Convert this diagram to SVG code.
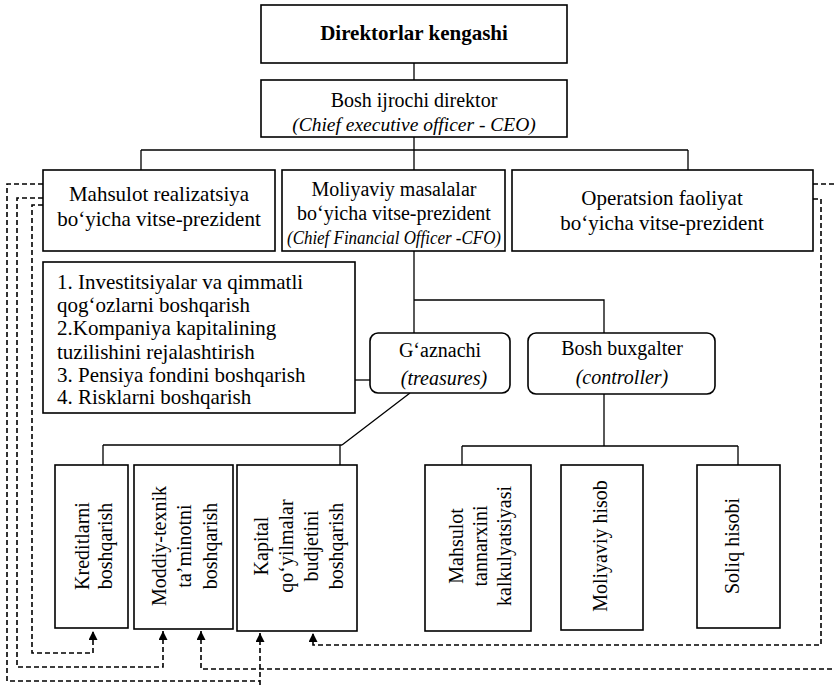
<svg xmlns="http://www.w3.org/2000/svg" width="834" height="685" viewBox="0 0 834 685">
<style>
.box{fill:#fff;stroke:#000;stroke-width:1.6}
.ln{fill:none;stroke:#000;stroke-width:1.3}
.dl{fill:none;stroke:#000;stroke-width:1.6;stroke-dasharray:5 3}
text{font-family:"Liberation Serif","Times New Roman",serif;font-size:20px;fill:#000}
.c{text-anchor:middle}
.i{font-style:italic}
.b{font-weight:bold;font-size:21px}
.r{font-size:21px}
.v{font-size:21px}
.s{font-size:19px}
</style>
<defs>
<marker id="ah" viewBox="0 0 10 10" refX="10" refY="5" markerWidth="10" markerHeight="9" markerUnits="userSpaceOnUse" orient="auto">
<path d="M0,0 L10,5 L0,10 z" fill="#000"/>
</marker>
</defs>
<rect width="834" height="685" fill="#fff"/>
<g id="connectors">
<path class="ln" d="M414,63 V80"/>
<path class="ln" d="M414,137 V150 M141,150 H688 M141,150 V170 M414,150 V170 M688,150 V170"/>
<path class="ln" d="M414,251 V300 H604 V333 M414,300 V333"/>
<path class="ln" d="M355,380 H370"/>
<path class="ln" d="M410,393 L342,445 M103,445 H342 M103,445 V465 M340,445 V465"/>
<path class="ln" d="M604,394 V446 M462,446 H738 M462,446 V465 M738,446 V465"/>
<path class="dl" d="M43,205 H32 V653 H93 V631" marker-end="url(#ah)"/>
<path class="dl" d="M43,198 H17 V667 H163 V631" marker-end="url(#ah)"/>
<path class="dl" d="M43,184 H7 V681 H260 M260,685 V633" marker-end="url(#ah)"/>
<path class="dl" d="M813,184 H840 V669 H201 V631" marker-end="url(#ah)"/>
<path class="dl" d="M813,199 H821 V645 H313 V633" marker-end="url(#ah)"/>
</g>
<g id="board">
<rect class="box" x="261" y="5" width="306" height="58"/>
<text class="c b" x="414" y="40">Direktorlar kengashi</text>
</g>
<g id="ceo">
<rect class="box" x="261" y="80" width="306" height="57"/>
<text class="c" x="414" y="107">Bosh ijrochi direktor</text>
<text class="c i" x="414" y="131" style="font-size:19.5px">(Chief executive officer - CEO)</text>
</g>
<g id="vp-sales">
<rect class="box" x="43" y="170" width="232" height="81"/>
<text class="c v" x="159" y="201">Mahsulot realizatsiya</text>
<text class="c v" x="159" y="226">bo‘yicha vitse-prezident</text>
</g>
<g id="cfo">
<rect class="box" x="282" y="170" width="223" height="81"/>
<text class="c" x="394" y="196">Moliyaviy masalalar</text>
<text class="c" x="394" y="220">bo‘yicha vitse-prezident</text>
<text class="c i s" x="394" y="244" textLength="214" lengthAdjust="spacingAndGlyphs">(Chief Financial Officer -CFO)</text>
</g>
<g id="vp-ops">
<rect class="box" x="512" y="170" width="301" height="81"/>
<text class="c v" x="662" y="205">Operatsion faoliyat</text>
<text class="c v" x="662" y="230">bo‘yicha vitse-prezident</text>
</g>
<g id="treasurer-tasks">
<rect class="box" x="43" y="262" width="312" height="151"/>
<text class="r" x="57" y="289">1. Investitsiyalar va qimmatli</text>
<text class="r" x="57" y="312">qog‘ozlarni boshqarish</text>
<text class="r" x="57" y="335">2.Kompaniya kapitalining</text>
<text class="r" x="57" y="359">tuzilishini rejalashtirish</text>
<text class="r" x="57" y="382">3. Pensiya fondini boshqarish</text>
<text class="r" x="57" y="404">4. Risklarni boshqarish</text>
</g>
<g id="treasurer">
<rect class="box" x="370" y="333" width="140" height="60" rx="8"/>
<text class="c" x="440" y="357">G‘aznachi</text>
<text class="c i" x="444" y="385">(treasures)</text>
</g>
<g id="controller">
<rect class="box" x="528" y="333" width="187" height="61" rx="8"/>
<text class="c" x="622" y="355">Bosh buxgalter</text>
<text class="c i" x="622" y="384">(controller)</text>
</g>
<g id="credit">
<rect class="box" x="55" y="465" width="73" height="163"/>
<text class="c" transform="translate(89,546) rotate(-90)">Kreditlarni</text>
<text class="c" transform="translate(112,546) rotate(-90)">boshqarish</text>
</g>
<g id="supply">
<rect class="box" x="134" y="465" width="99" height="164"/>
<text class="c" transform="translate(166,546) rotate(-90)">Moddiy-texnik</text>
<text class="c" transform="translate(191,546) rotate(-90)">ta’minotni</text>
<text class="c" transform="translate(217,546) rotate(-90)">boshqarish</text>
</g>
<g id="capital-budget">
<rect class="box" x="237" y="465" width="120" height="166"/>
<text class="c" transform="translate(268,546) rotate(-90)">Kapital</text>
<text class="c" transform="translate(293,546) rotate(-90)">qo‘yilmalar</text>
<text class="c" transform="translate(318,546) rotate(-90)">budjetini</text>
<text class="c" transform="translate(343,546) rotate(-90)">boshqarish</text>
</g>
<g id="costing">
<rect class="box" x="425" y="465" width="106" height="166"/>
<text class="c" transform="translate(463,546) rotate(-90)">Mahsulot</text>
<text class="c" transform="translate(487,546) rotate(-90)">tannarxini</text>
<text class="c" transform="translate(511,546) rotate(-90)">kalkulyatsiyasi</text>
</g>
<g id="fin-accounting">
<rect class="box" x="561" y="465" width="82" height="165"/>
<text class="c" transform="translate(607,546) rotate(-90)">Moliyaviy hisob</text>
</g>
<g id="tax-accounting">
<rect class="box" x="697" y="465" width="83" height="163"/>
<text class="c" transform="translate(739,546) rotate(-90)">Soliq hisobi</text>
</g>
</svg>
